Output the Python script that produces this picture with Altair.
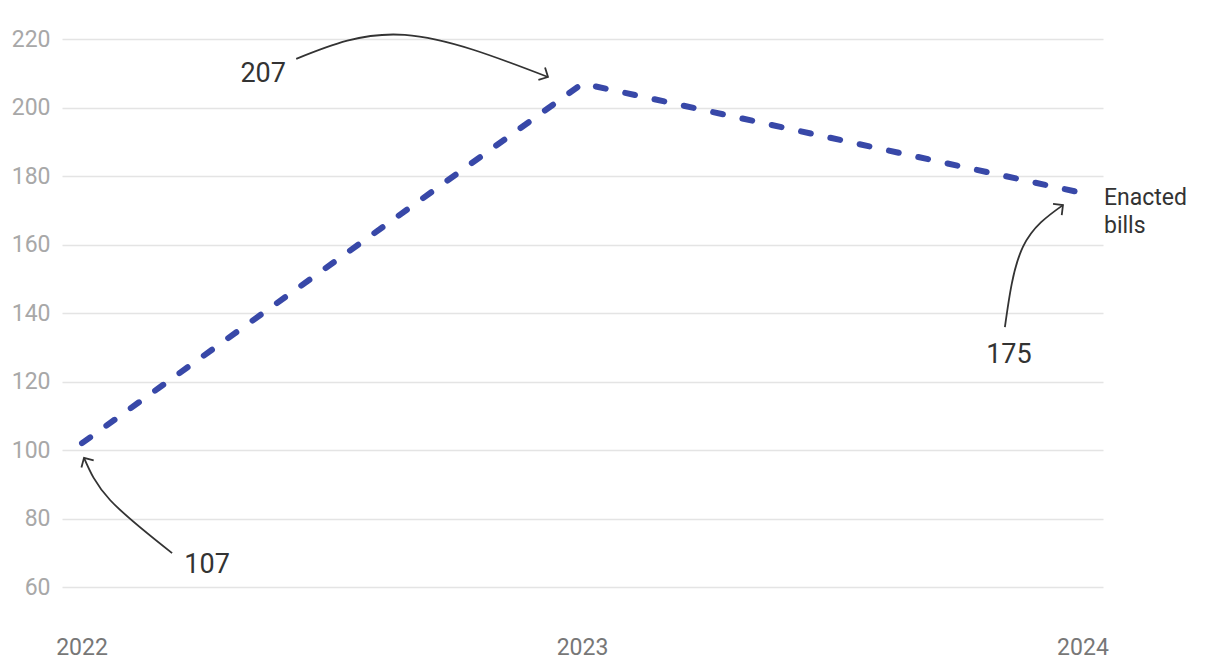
import altair as alt
import pandas as pd

# Series
years = [2022, 2023, 2024]
year_labels = ["2022", "2023", "2024"]
bills = [102, 207, 175]

# Annotation texts and their anchor positions (data units)
ann_text = ["107", "207", "175"]
ann_x = [2022.25, 2022.362, 2023.852]
ann_y = [66.4, 209.8, 127.7]

series_label = ["Enacted", "bills"]
series_label_x = [2024.042]
series_label_y = [173.6]

# Arrow curve control points (data units)
arrow_id = ["a107"] * 3 + ["a207"] * 3 + ["a175"] * 3
arrow_ord = [0, 1, 2] * 3
arrow_x = [2022.180, 2022.056, 2022.004,
           2022.428, 2022.645, 2022.931,
           2023.844, 2023.880, 2023.960]
arrow_y = [69.9, 85.4, 97.7,
           214.2, 221.2, 208.9,
           135.9, 159.3, 171.5]

# Arrow heads (tip position and direction in degrees)
head_x = [2022.004, 2022.931, 2023.960]
head_y = [97.7, 208.9, 171.5]
head_angle = [240, 28, 322]

y_ticks = [60, 80, 100, 120, 140, 160, 180, 200, 220]

FONT = "Roboto"
W, H = 1041, 548
xscale = alt.Scale(domain=[2021.96, 2024.04], nice=False, zero=False)
yscale = alt.Scale(domain=[60, 220], nice=False, zero=False)

xaxis = alt.Axis(values=years, labels=False, grid=False, domain=False,
                 ticks=False, title=None)
yaxis = alt.Axis(values=y_ticks, grid=True,
                 gridColor="#e4e4e4", gridWidth=1.5, domain=False,
                 ticks=False, labelPadding=12, labelFontSize=23,
                 labelColor="#a8a8a8", labelFont=FONT,
                 labelOverlap=False, title=None)

line_df = pd.DataFrame({"x": years, "y": bills})
yl_df = pd.DataFrame({"x": years, "t": year_labels})
ann_df = pd.DataFrame({"x": ann_x, "y": ann_y, "t": ann_text})
lab_df = pd.DataFrame({"x": series_label_x, "y": series_label_y, "t": [series_label]})
arr_df = pd.DataFrame({"id": arrow_id, "o": arrow_ord, "x": arrow_x, "y": arrow_y})
head_df = pd.DataFrame({"x": head_x, "y": head_y, "a": head_angle})

ax = alt.X("x:Q", scale=xscale, axis=xaxis)
ay = alt.Y("y:Q", scale=yscale, axis=yaxis)

line = alt.Chart(line_df).mark_line(
    color="#3848a8", strokeWidth=6, strokeDash=[10, 20], strokeCap="round"
).encode(x=ax, y=ay)

arrows = alt.Chart(arr_df).mark_line(
    color="#333333", strokeWidth=1.8, interpolate="natural"
).encode(x=ax, y=ay, detail="id:N", order="o:Q")

heads = alt.Chart(head_df).mark_point(
    shape="M-1,-1L0,0L-1,1", filled=False, stroke="#333333", strokeWidth=1.8,
    size=200, opacity=1
).encode(x=ax, y=ay, angle=alt.Angle("a:Q", scale=None))

ann = alt.Chart(ann_df).mark_text(
    font=FONT, fontSize=27, color="#333333", align="center", baseline="middle"
).encode(x=ax, y=ay, text="t:N")

lab = alt.Chart(lab_df).mark_text(
    font=FONT, fontSize=23, color="#333333", align="left", baseline="middle",
    lineHeight=28
).encode(x=ax, y=ay, text="t")

year_text = alt.Chart(yl_df).mark_text(
    font=FONT, fontSize=23, color="#777777", align="center", baseline="middle"
).encode(x=ax, y=alt.value(H + 61), text="t:N")

chart = alt.layer(line, arrows, heads, ann, lab, year_text).properties(
    width=W, height=H,
    autosize=alt.AutoSizeParams(type="none"),
    padding={"left": 54, "top": 31, "right": 100, "bottom": 80},
).configure_view(stroke=None)

chart.save("out.html", embed_options={"renderer": "svg", "actions": False})
